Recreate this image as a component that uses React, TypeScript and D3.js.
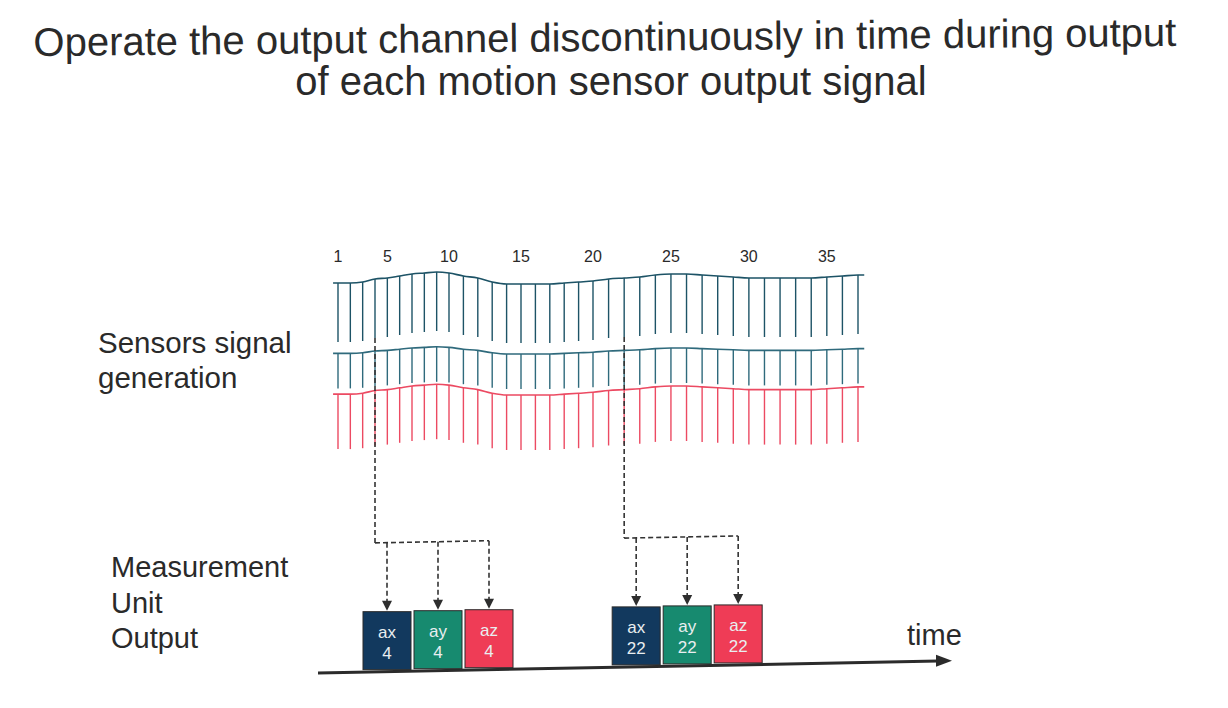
import { useEffect, useRef } from 'react';
import * as d3 from 'd3';

const titleLines = [
  'Operate the output channel discontinuously in time during output',
  'of each motion sensor output signal',
];
const sensorLabelLines = ['Sensors signal', 'generation'];
const outputLabelLines = ['Measurement', 'Unit', 'Output'];
const tickLabels = [1, 5, 10, 15, 20, 25, 30, 35];
// relative signal level of each of the 37 samples
const signalLevels = [
  1, 1, 2, 5, 6, 8, 10, 11, 12, 11, 8, 6, 2, 0, 0, 0, 0, 1, 2,
  3, 5, 6, 7, 9, 10, 10, 9, 8, 7, 6, 6, 6, 6, 6, 7, 8, 9,
];
const channels = ['ax', 'ay', 'az'];
const outputSamples = [4, 22];

const FONT = '"Liberation Sans", Arial, Helvetica, sans-serif';
const W = 1228;
const H = 708;

// rows of the signal drawing: base y, px per level unit, spike length, colour
const rowStyle = [
  { base: 284, gain: 1.0, len: 59, color: '#1d5366' },
  { base: 354, gain: 0.6, len: 35, color: '#2f6a7c' },
  { base: 395, gain: 0.9, len: 55, color: '#ec4a62' },
];
const boxColor: Record<string, string> = { ax: '#12395e', ay: '#178a6f', az: '#ef3c56' };

export default function App() {
  const svgRef = useRef<SVGSVGElement>(null);

  useEffect(() => {
    if (!svgRef.current) return;
    d3.select(svgRef.current).selectAll('*').remove();

    const svg = d3.select(svgRef.current).attr('width', W).attr('height', H);
    svg.append('rect').attr('width', W).attr('height', H).attr('fill', '#ffffff');

    const ink = '#2a2a2a';

    // title (first line sits a little tilted in the scan)
    svg.append('text')
      .attr('x', 605).attr('y', 51)
      .attr('transform', 'rotate(-0.5 605 51)')
      .attr('text-anchor', 'middle')
      .attr('font-family', FONT)
      .attr('font-size', 40)
      .attr('fill', ink)
      .text(titleLines[0]);
    svg.append('text')
      .attr('x', 611).attr('y', 95)
      .attr('text-anchor', 'middle')
      .attr('font-family', FONT)
      .attr('font-size', 40)
      .attr('fill', ink)
      .text(titleLines[1]);

    // left labels
    sensorLabelLines.forEach((t, i) => {
      svg.append('text')
        .attr('x', 98).attr('y', 353 + i * 35)
        .attr('font-family', FONT).attr('font-size', 29.5).attr('fill', ink)
        .text(t);
    });
    outputLabelLines.forEach((t, i) => {
      svg.append('text')
        .attr('x', 111).attr('y', 577 + i * 35.5)
        .attr('font-family', FONT).attr('font-size', 29).attr('fill', ink)
        .text(t);
    });

    // sample position scale (hand spacing is a bit uneven)
    const x = d3.scaleLinear().domain([1, 10, 20, 37]).range([338, 449, 593, 858]);
    const samples = signalLevels.map((v, i) => ({ n: i + 1, v }));

    // tick labels
    svg.append('g')
      .selectAll('text')
      .data(tickLabels)
      .join('text')
      .attr('x', (d) => x(d))
      .attr('y', 262)
      .attr('text-anchor', 'middle')
      .attr('font-family', FONT)
      .attr('font-size', 16)
      .attr('fill', ink)
      .text((d) => d);

    // signal rows
    const levelMax = d3.max(signalLevels) as number;
    const rowY = rowStyle.map((r) =>
      d3.scaleLinear().domain([0, levelMax]).range([r.base, r.base - r.gain * levelMax])
    );

    rowStyle.forEach((r, ri) => {
      const y = rowY[ri];
      const g = svg.append('g');
      const ext = [
        { n: 0.6, v: signalLevels[0] },
        ...samples,
        { n: signalLevels.length + 0.4, v: signalLevels[signalLevels.length - 1] },
      ];
      const line = d3.line<{ n: number; v: number }>()
        .x((d) => x(d.n))
        .y((d) => y(d.v))
        .curve(d3.curveMonotoneX);
      g.append('path')
        .attr('d', line(ext))
        .attr('fill', 'none')
        .attr('stroke', r.color)
        .attr('stroke-width', 1.6);
      g.selectAll('line')
        .data(samples)
        .join('line')
        .attr('x1', (d) => x(d.n))
        .attr('x2', (d) => x(d.n))
        .attr('y1', (d) => y(d.v))
        .attr('y2', (d) => y(d.v) + r.len)
        .attr('stroke', r.color)
        .attr('stroke-width', 1.4);
    });

    // lower part: the scan is tilted slightly, so y drifts up to the right
    const tilt = (px: number) => (px - 318) * 0.0192;
    const axisY = 673;
    const boxW = 48;
    const boxStep = 51;
    const boxTop = 613;
    const boxBottom = 671;
    const busY = 544;
    const dash = '5,3';

    const conn = svg.append('g');
    outputSamples.forEach((s) => {
      const x0 = x(s);
      const startY = rowY[0](signalLevels[s - 1]) + rowStyle[0].len;
      const centers = channels.map((_, ci) => x0 - 12 + ci * boxStep + boxW / 2);
      const lastX = centers[centers.length - 1];

      conn.append('line')
        .attr('x1', x0).attr('x2', x0)
        .attr('y1', startY).attr('y2', busY - tilt(x0))
        .attr('stroke', '#333').attr('stroke-width', 1.6)
        .attr('stroke-dasharray', dash);
      conn.append('line')
        .attr('x1', x0).attr('x2', lastX)
        .attr('y1', busY - tilt(x0)).attr('y2', busY - tilt(lastX))
        .attr('stroke', '#333').attr('stroke-width', 1.6)
        .attr('stroke-dasharray', dash);

      channels.forEach((c, ci) => {
        const cx = centers[ci];
        const top = boxTop - tilt(cx);
        const bottom = boxBottom - tilt(cx);
        conn.append('line')
          .attr('x1', cx).attr('x2', cx)
          .attr('y1', busY - tilt(cx)).attr('y2', top - 9)
          .attr('stroke', '#333').attr('stroke-width', 1.6)
          .attr('stroke-dasharray', dash);
        conn.append('path')
          .attr('d', `M${cx - 5},${top - 11}L${cx + 5},${top - 11}L${cx},${top - 1}Z`)
          .attr('fill', '#2e2e2e');

        conn.append('rect')
          .attr('x', cx - boxW / 2)
          .attr('y', top)
          .attr('width', boxW)
          .attr('height', bottom - top)
          .attr('fill', boxColor[c])
          .attr('stroke', '#2a2a2a')
          .attr('stroke-width', 1);
        conn.append('text')
          .attr('x', cx).attr('y', top + 26)
          .attr('text-anchor', 'middle')
          .attr('font-family', FONT).attr('font-size', 17)
          .attr('fill', '#e9eef0')
          .text(c);
        conn.append('text')
          .attr('x', cx).attr('y', top + 47)
          .attr('text-anchor', 'middle')
          .attr('font-family', FONT).attr('font-size', 17)
          .attr('fill', '#e9eef0')
          .text(s);
      });
    });

    // time axis
    const axisEnd = 952;
    svg.append('line')
      .attr('x1', 318).attr('x2', axisEnd - 14)
      .attr('y1', axisY).attr('y2', axisY - tilt(axisEnd - 14))
      .attr('stroke', '#2b2b2b').attr('stroke-width', 3);
    const ty = axisY - tilt(axisEnd);
    svg.append('path')
      .attr('d', `M${axisEnd - 16},${ty - 6}L${axisEnd},${ty}L${axisEnd - 16},${ty + 6}Z`)
      .attr('fill', '#2b2b2b');
    svg.append('text')
      .attr('x', 907).attr('y', 645)
      .attr('font-family', FONT).attr('font-size', 29).attr('fill', ink)
      .text('time');
  }, []);

  return (
    <svg
      ref={svgRef}
      style={{ position: 'absolute', left: 0, top: 0, display: 'block' }}
    />
  );
}
